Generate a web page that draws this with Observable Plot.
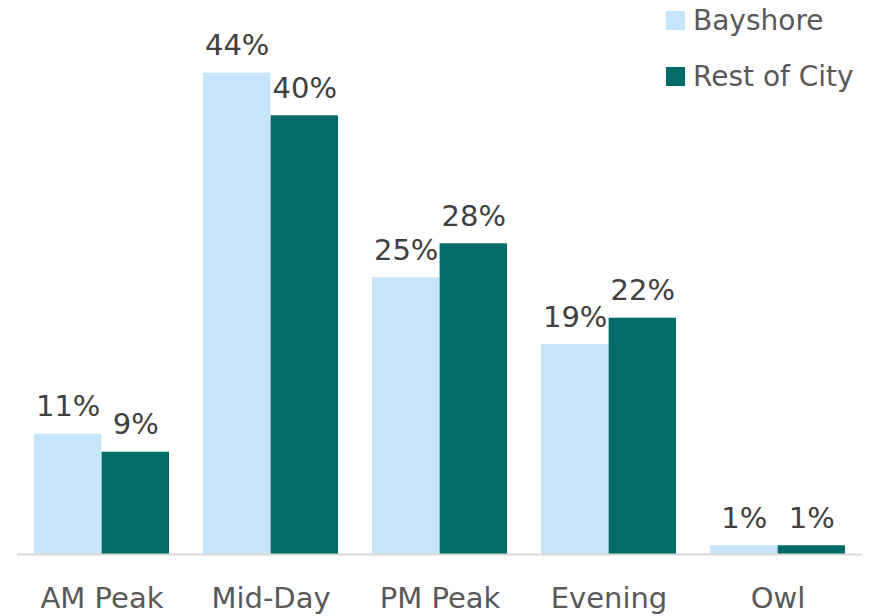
<!DOCTYPE html>
<html>
<head>
<meta charset="utf-8">
<script src="https://cdn.jsdelivr.net/npm/d3@7"></script>
<script src="https://cdn.jsdelivr.net/npm/@observablehq/plot@0.6"></script>
<style>
  html, body { margin: 0; padding: 0; background: #fff; }
  #wrap { position: relative; width: 877px; height: 616px; font-family: "DejaVu Sans", sans-serif; color: #595959; }
  .legend { position: absolute; left: 666px; top: 0; font-size: 28px; }
  .legend .item { position: absolute; left: 0; white-space: nowrap; display: flex; align-items: center; }
  .legend .sw { width: 19px; height: 19px; margin-right: 8px; display: inline-block; }
</style>
</head>
<body>
<div id="wrap"></div>
<script>
const categories = ["AM Peak", "Mid-Day", "PM Peak", "Evening", "Owl"];
const series = ["Bayshore", "Rest of City"];
const bayshore = [11.0, 44.0, 25.3, 19.2, 0.8];
const restOfCity = [9.35, 40.1, 28.4, 21.6, 0.8];
const colors = ["#C6E5FA", "#006B67"];

const rows = [];
categories.forEach((c, i) => {
  rows.push({category: c, series: series[0], value: bayshore[i]});
  rows.push({category: c, series: series[1], value: restOfCity[i]});
});

const W = 877, H = 616, mL = 17, mR = 15;
const step = (W - mL - mR) / categories.length;
const bw = step * 0.8;
const half = bw / 2;
const fmt = d => Math.max(1, Math.round(d.value)) + "%";

const chart = Plot.plot({
  width: W,
  height: H,
  marginLeft: mL,
  marginRight: mR,
  marginTop: 7,
  marginBottom: 62,
  style: {fontFamily: "DejaVu Sans, sans-serif", color: "#595959", background: "transparent"},
  x: {domain: categories, paddingInner: 0.2, paddingOuter: 0.1, label: null, tickSize: 0, tickPadding: 33},
  y: {domain: [0, 50], axis: null},
  color: {domain: series, range: colors},
  marks: [
    Plot.barY(rows.filter(d => d.series === series[0]), {x: "category", y: "value", fill: colors[0], insetRight: half}),
    Plot.barY(rows.filter(d => d.series === series[1]), {x: "category", y: "value", fill: colors[1], insetLeft: half}),
    Plot.ruleY([0], {stroke: "#D9D9D9", strokeWidth: 2}),
    Plot.text(rows.filter(d => d.series === series[0]), {x: "category", y: "value", text: fmt, dx: -half / 2, dy: -27, fontSize: 29, fill: "#404040"}),
    Plot.text(rows.filter(d => d.series === series[1]), {x: "category", y: "value", text: fmt, dx: half / 2, dy: -27, fontSize: 29, fill: "#404040"})
  ]
});
chart.querySelectorAll("g[aria-label='x-axis tick label'] text, g[aria-label='x-axis'] text").forEach(t => { t.setAttribute("font-size", "29"); t.style.fontSize = "29px"; t.setAttribute("fill", "#595959"); });
document.getElementById("wrap").appendChild(chart);

const legend = document.createElement("div");
legend.className = "legend";
series.forEach((s, i) => {
  const item = document.createElement("div");
  item.className = "item";
  item.style.top = (i === 0 ? 4 : 60) + "px";
  const sw = document.createElement("span");
  sw.className = "sw";
  sw.style.background = colors[i];
  item.appendChild(sw);
  item.appendChild(document.createTextNode(s));
  legend.appendChild(item);
});
document.getElementById("wrap").appendChild(legend);
</script>
</body>
</html>
